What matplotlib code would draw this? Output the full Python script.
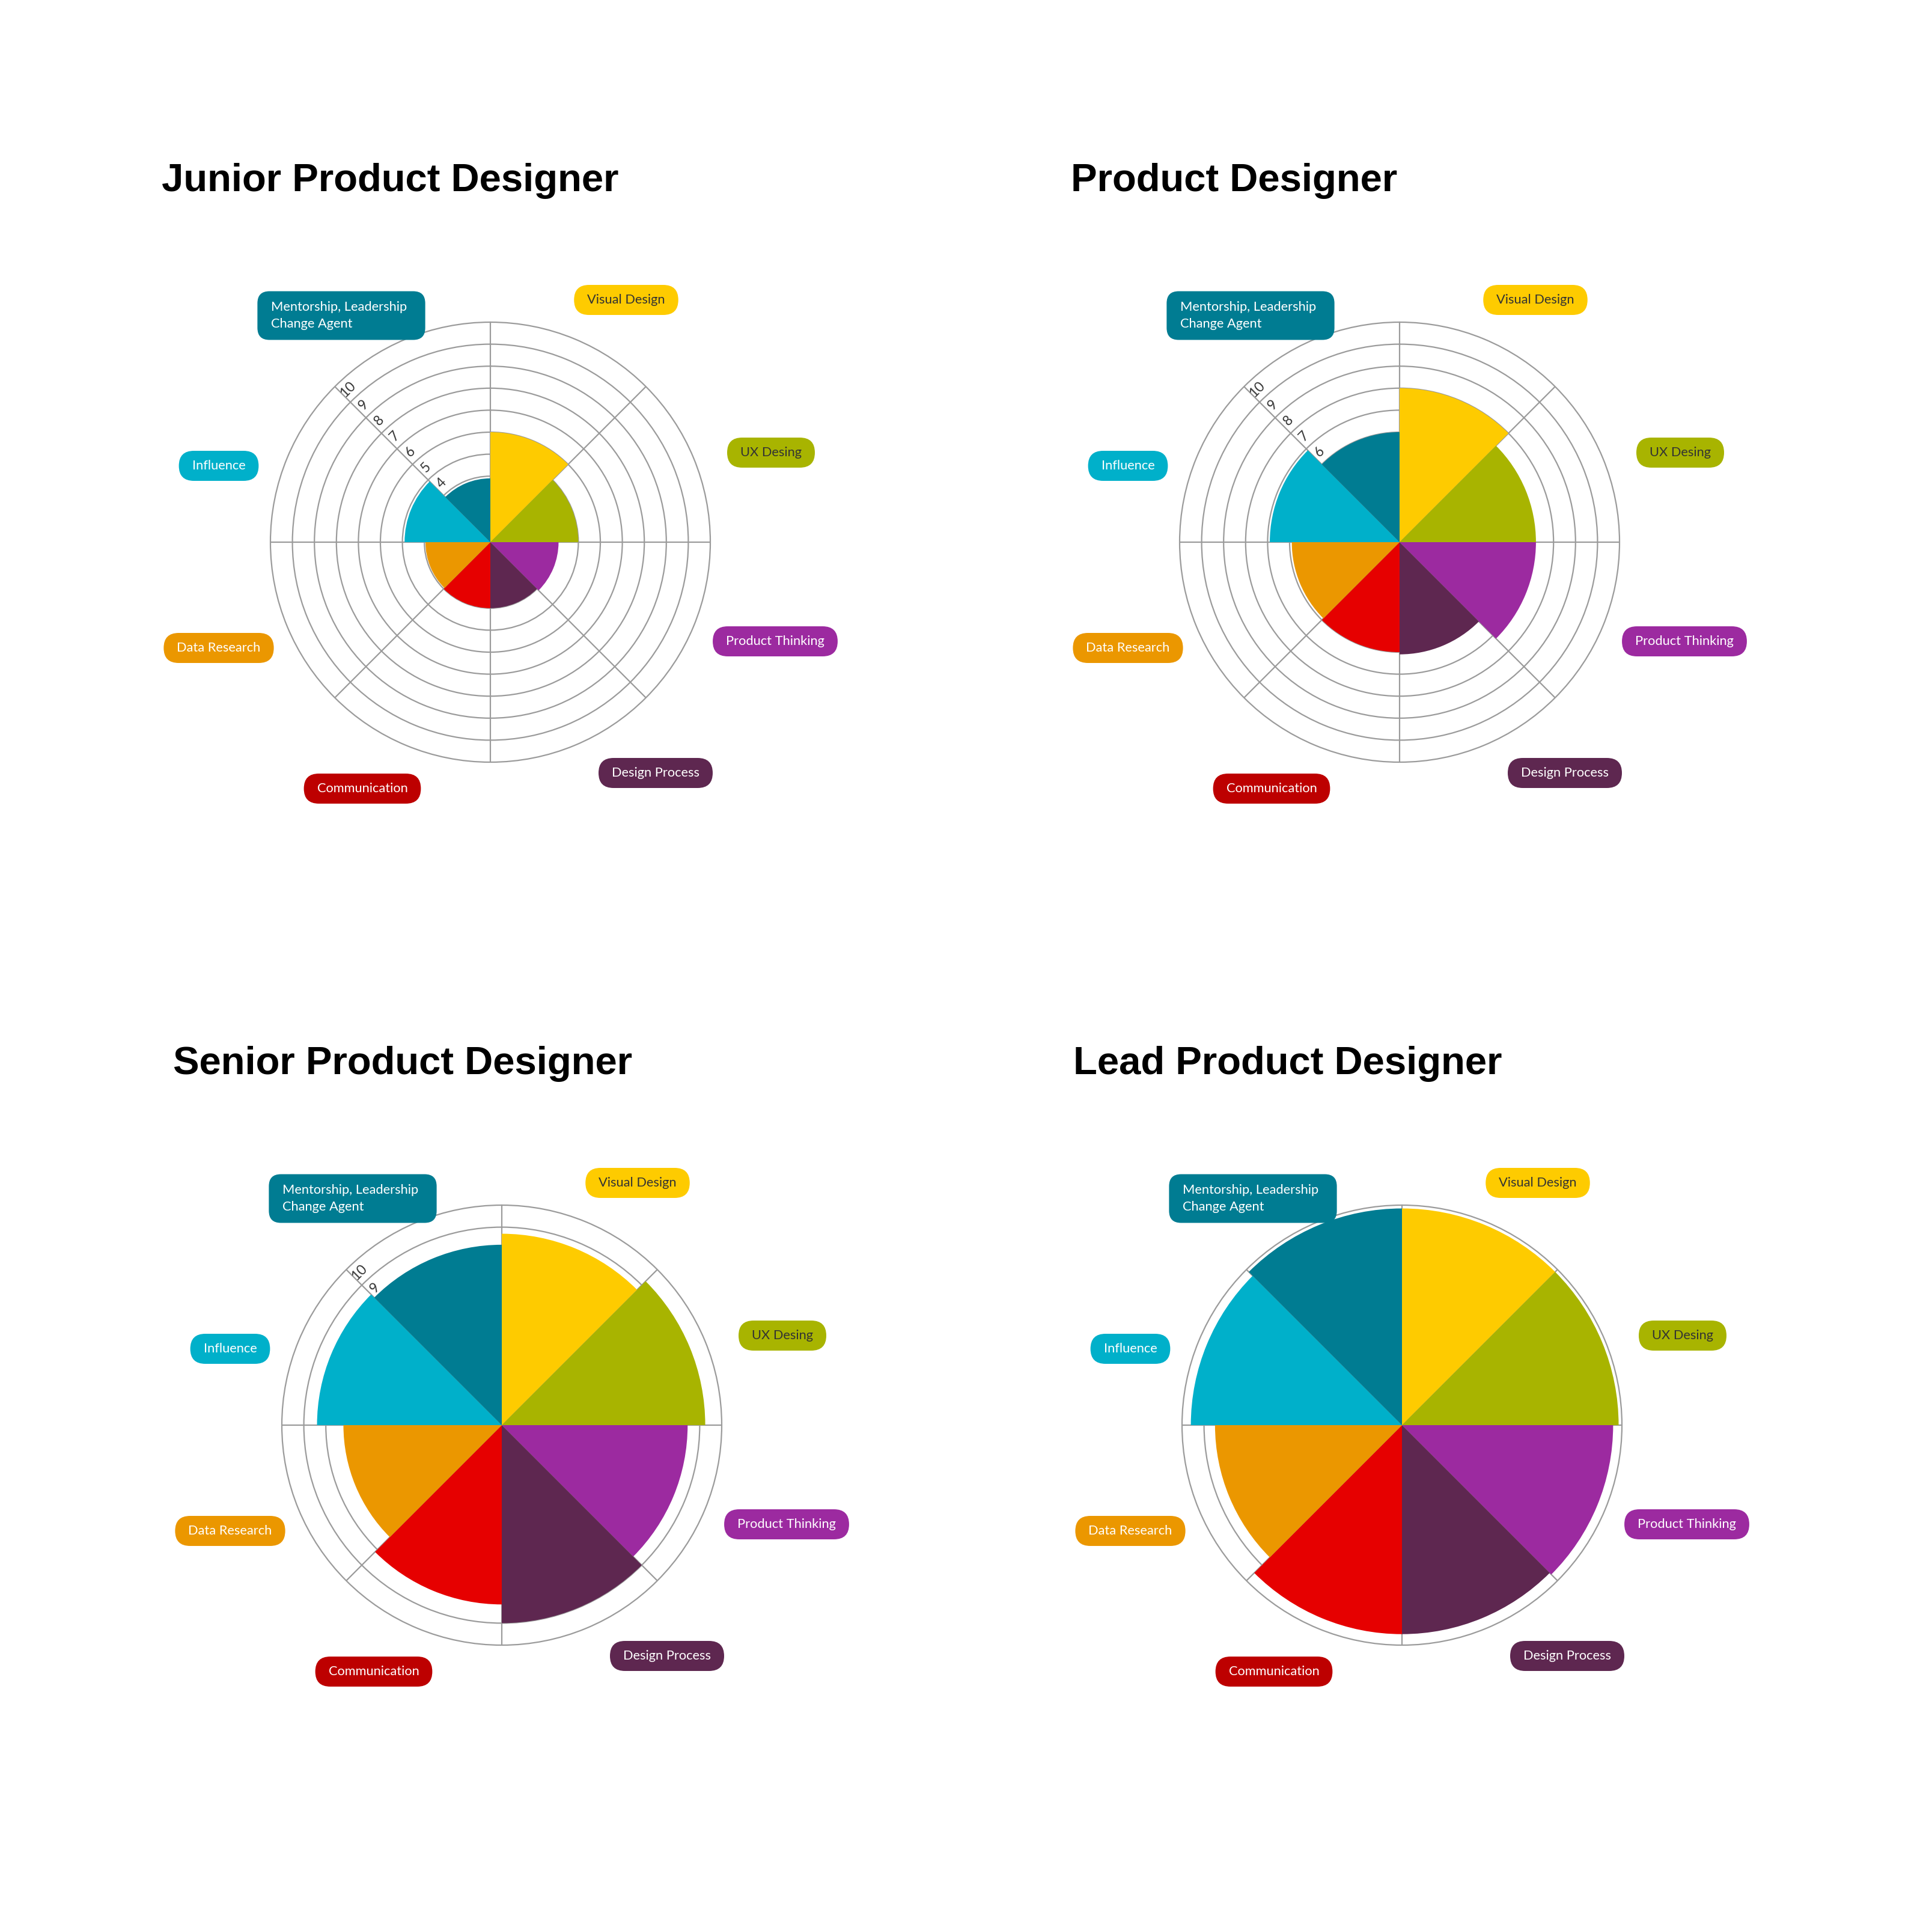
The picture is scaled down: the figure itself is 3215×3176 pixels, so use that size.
import matplotlib
matplotlib.use("Agg")
import matplotlib.pyplot as plt
import numpy as np
from matplotlib.patches import FancyBboxPatch
from matplotlib.transforms import offset_copy, IdentityTransform

# skill areas, clockwise from the top
skills = ["Visual Design", "UX Desing", "Product Thinking", "Design Process",
          "Communication", "Data Research", "Influence",
          "Mentorship, Leadership\nChange Agent"]
wedge_colors = ["#FECB00", "#A8B400", "#9C2AA0", "#5E2750",
                "#E60000", "#EB9700", "#00B0CA", "#007C92"]
pill_colors = ["#FECB00", "#A8B400", "#9C2AA0", "#5E2750",
               "#BD0000", "#EB9700", "#00B0CA", "#007C92"]
text_colors = ["#333333", "#333333", "white", "white",
               "white", "white", "white", "white"]

titles = ["Junior Product Designer", "Product Designer",
          "Senior Product Designer", "Lead Product Designer"]
junior = [5.0, 4.0, 3.1, 3.0, 3.0, 2.95, 3.9, 2.9]
product = [7.0, 6.2, 6.2, 5.1, 5.0, 4.9, 5.9, 5.0]
senior = [8.7, 9.25, 8.45, 9.0, 8.15, 7.2, 8.4, 8.2]
lead = [9.85, 9.85, 9.6, 9.5, 9.5, 8.5, 9.6, 9.85]
levels = [junior, product, senior, lead]
ring_ticks = list(range(1, 11))

W, H, DPI = 3216, 3176, 200
R = 366
centers = [(816, 902), (2329, 902), (835, 2371), (2333, 2371)]
# pill centres relative to the chart centre (px, y downwards)
pill_off = [(226, -403), (467, -149), (474, 165), (275, 384),
            (-213, 410), (-452, 176), (-452, -127), (-248, -377)]

fig = plt.figure(figsize=(W / DPI, H / DPI), dpi=DPI)
fig.patch.set_facecolor("white")

grid_c = "#9B9B9B"
theta = np.deg2rad(np.arange(8) * 45 + 22.5)

pill_texts = []
for k in range(4):
    cx, cy = centers[k]
    ax = fig.add_axes([(cx - R) / W, 1 - (cy + R) / H, 2 * R / W, 2 * R / H],
                      projection="polar")
    ax.set_theta_zero_location("N")
    ax.set_theta_direction(-1)
    ax.set_axisbelow(True)
    ax.bar(theta, levels[k], width=np.deg2rad(45), bottom=0,
           color=wedge_colors, edgecolor="none", linewidth=0, zorder=1)
    ax.set_ylim(0, 10)
    ax.set_rgrids(ring_ticks[:-1])
    ax.set_thetagrids(range(0, 360, 45))
    ax.set_yticklabels([])
    ax.set_xticklabels([])
    ax.tick_params(length=0)
    ax.grid(True, color=grid_c, linewidth=0.8)
    ax.spines["polar"].set_color(grid_c)
    ax.spines["polar"].set_linewidth(0.8)

    tr = offset_copy(ax.transData, fig=fig, x=8.5, y=8.5, units="dots")
    for r in ring_ticks:
        ax.text(np.deg2rad(315), r - 0.52, str(r), transform=tr,
                rotation=45, rotation_mode="anchor", ha="center",
                va="center", fontsize=8.3, color="#333333",
                family="Lato", zorder=0.8)

    fig.text((cx - 547) / W, 1 - (cy - 584) / H, titles[k],
             fontsize=23.5, fontweight="bold", family="Liberation Sans",
             ha="left", va="baseline", color="black")

    for i, name in enumerate(skills):
        px = cx + pill_off[i][0]
        py = H - (cy + pill_off[i][1])
        multi = "\n" in name
        t = fig.text(px / W, py / H, name, fontsize=7.9, family="Lato",
                     color=text_colors[i], ha="left" if multi else "center",
                     va="center", linespacing=1.55, zorder=3)
        pill_texts.append((t, px, py, multi, pill_colors[i]))

fig.canvas.draw()
rend = fig.canvas.get_renderer()
for t, px, py, multi, col in pill_texts:
    bb = t.get_window_extent(rend)
    if multi:
        bw = bb.width + 23 + 30
        bh = 81
        x0 = px - bw / 2
        t.set_position(((x0 + 23) / W, py / H))
        rs = 20
    else:
        bw = bb.width + 44
        bh = 50
        x0 = px - bw / 2
        rs = 25
    box = FancyBboxPatch((x0, py - bh / 2), bw, bh,
                         boxstyle="round,pad=0,rounding_size=%d" % rs,
                         facecolor=col, edgecolor="none",
                         transform=IdentityTransform(), zorder=2)
    fig.patches.append(box)

fig.savefig("out.png", dpi=DPI, facecolor="white")
